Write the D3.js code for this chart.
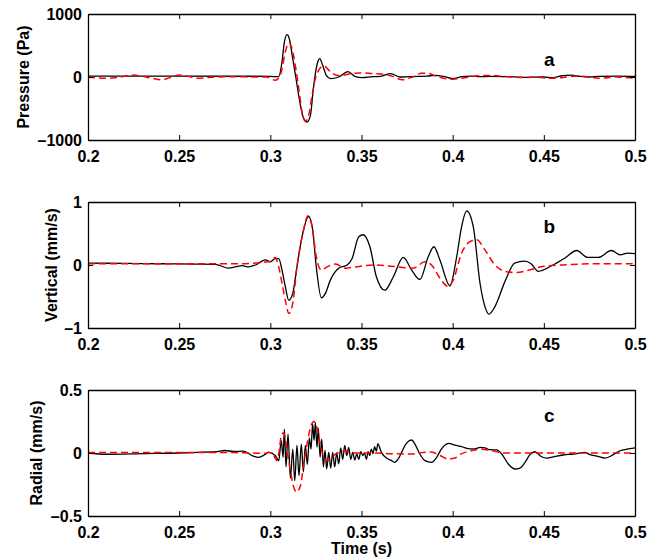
<!DOCTYPE html>
<html>
<head>
<meta charset="utf-8">
<script src="https://cdn.jsdelivr.net/npm/d3@7"></script>
<style>
  body { margin: 0; background: #fff; }
  text { font-family: "Liberation Sans", Arial, Helvetica, sans-serif; font-weight: bold; }
</style>
</head>
<body>
<div id="chart"></div>
<script>
// data: [time (s), value]
var timeTicks = [0.2, 0.25, 0.3, 0.35, 0.4, 0.45, 0.5];

// panel a - pressure (Pa)
var pressureBlack = [
  [0.2, 15], [0.25, 15], [0.29, 12], [0.3, 10], [0.3046, 5], [0.3064, 240], [0.3077, 555], [0.3092, 672],
  [0.3104, 608], [0.3123, 291], [0.3141, -26], [0.3165, -450], [0.3183, -661], [0.3201, -714],
  [0.322, -608], [0.3234, -238], [0.3247, 53], [0.326, 238], [0.3271, 291], [0.3287, 185],
  [0.3307, 26], [0.333, -26], [0.3375, 0], [0.3426, 85], [0.3467, 5], [0.3503, -10], [0.356, 5],
  [0.3605, 10], [0.366, 55], [0.371, 0], [0.376, 5], [0.381, 10], [0.386, 15], [0.39, 25],
  [0.395, 10], [0.4, -25], [0.405, 5], [0.41, 15], [0.415, 5], [0.42, 10], [0.43, 5], [0.44, -5],
  [0.45, 0], [0.455, -10], [0.46, 20], [0.465, 30], [0.47, 10], [0.475, 0], [0.48, 10], [0.49, 15], [0.5, 10]
];
var pressureRed = [
  [0.2, 0], [0.205, -15], [0.21, -20], [0.215, -10], [0.22, 10], [0.225, 30], [0.23, 10],
  [0.235, -20], [0.24, -45], [0.245, -10], [0.25, 30], [0.255, 10], [0.26, -20], [0.265, -10],
  [0.27, 0], [0.28, 5], [0.29, 0], [0.298, 0], [0.3027, -53], [0.3055, 30], [0.3064, 132],
  [0.3082, 397], [0.3104, 545], [0.3119, 450], [0.3137, 185], [0.3156, -185], [0.3174, -556],
  [0.3192, -704], [0.321, -608], [0.3229, -291], [0.3247, -26], [0.3265, 106], [0.3293, 180],
  [0.332, 110], [0.3345, 50], [0.338, 20], [0.342, 40], [0.346, 60], [0.35, 65], [0.356, 55],
  [0.362, 45], [0.367, 10], [0.3725, -45], [0.377, -10], [0.383, 60], [0.387, 55], [0.391, 10],
  [0.395, -20], [0.4, -35], [0.405, -20], [0.41, 5], [0.415, 20], [0.42, 25], [0.43, 5],
  [0.44, -10], [0.445, 0], [0.452, -20], [0.46, -10], [0.468, 15], [0.475, 0], [0.48, -20],
  [0.49, 0], [0.5, -20]
];

// panel b - vertical velocity (mm/s)
var verticalBlack = [
  [0.2, 0.03], [0.22, 0.025], [0.24, 0.02], [0.26, 0.015], [0.2698, 0.01], [0.2771, -0.05],
  [0.2808, -0.03], [0.2844, -0.01], [0.2881, -0.03], [0.2918, 0], [0.2973, 0.08], [0.3, 0.05],
  [0.3027, 0.1], [0.3046, 0.1], [0.3064, -0.08], [0.3082, -0.34], [0.3101, -0.56], [0.3123, -0.45],
  [0.3146, -0.03], [0.3174, 0.45], [0.321, 0.77], [0.3232, 0.56], [0.3252, -0.03], [0.328, -0.52],
  [0.3302, -0.45], [0.3329, -0.24], [0.3375, -0.05], [0.3421, 0], [0.3448, 0.1], [0.3485, 0.45],
  [0.3509, 0.48], [0.3546, 0.29], [0.3582, -0.19], [0.3628, -0.4], [0.3674, -0.19], [0.3729, 0.12],
  [0.3775, -0.08], [0.382, -0.23], [0.3866, 0.13], [0.3897, 0.29], [0.393, 0.08], [0.3985, -0.33],
  [0.4022, 0.13], [0.4049, 0.61], [0.4077, 0.86], [0.4113, 0.61], [0.415, -0.29], [0.4177, -0.66],
  [0.4199, -0.78], [0.4232, -0.66], [0.4287, -0.26], [0.434, 0.03], [0.4395, 0.06], [0.443, 0.02],
  [0.447, -0.1], [0.455, 0], [0.462, 0.12], [0.468, 0.23], [0.474, 0.12], [0.48, 0.12],
  [0.487, 0.23], [0.492, 0.16], [0.496, 0.19], [0.5, 0.18]
];
var verticalRed = [
  [0.2, 0.02], [0.24, 0.02], [0.28, 0.02], [0.2991, 0.05], [0.3027, 0.12], [0.3046, -0.03],
  [0.3064, -0.29], [0.3086, -0.61], [0.3101, -0.77], [0.3123, -0.61], [0.3146, -0.03], [0.3178, 0.5],
  [0.3207, 0.78], [0.3229, 0.61], [0.3252, 0.13], [0.328, -0.08], [0.3311, -0.03], [0.3357, 0.015],
  [0.3412, -0.05], [0.3467, -0.03], [0.3573, 0], [0.3701, -0.03], [0.3784, -0.05], [0.3848, 0.05],
  [0.3884, 0], [0.393, -0.21], [0.3976, -0.34], [0.4003, -0.24], [0.4049, 0.19], [0.4095, 0.37],
  [0.4132, 0.4], [0.4177, 0.24], [0.4232, 0], [0.4287, -0.1], [0.435, -0.12], [0.442, -0.08],
  [0.45, -0.02], [0.46, 0.0], [0.48, 0.02], [0.5, 0.02]
];

// panel c - radial velocity (mm/s)
var radialBlack = [
  [0.2, 0], [0.21, -0.01], [0.23, -0.005], [0.25, 0], [0.26, 0.005], [0.27, 0.01], [0.275, 0.02],
  [0.28, 0.012], [0.285, 0.015], [0.29, -0.02], [0.2936, -0.035], [0.2973, -0.01], [0.2991, 0.005],
  [0.3027, -0.02], [0.3046, -0.06], [0.306, 0.098], [0.307, -0.034], [0.3077, 0.19], [0.3086, -0.11],
  [0.3097, 0.15], [0.311, -0.2], [0.3123, 0.03], [0.3134, -0.22], [0.3146, 0.06], [0.3157, -0.18],
  [0.317, 0.07], [0.3181, -0.15], [0.3192, 0.06], [0.3203, -0.09], [0.3214, 0.12], [0.3223, 0.03],
  [0.3232, 0.23], [0.324, 0.1], [0.3247, 0.24], [0.3256, 0.045], [0.3263, 0.2], [0.3273, -0.034],
  [0.3282, 0.11], [0.3291, -0.11], [0.33, 0.02], [0.3309, -0.127], [0.332, 0.005], [0.3331, -0.12],
  [0.3342, 0.005], [0.3353, -0.11], [0.3364, 0], [0.3375, -0.087], [0.3386, 0.04], [0.3397, -0.05],
  [0.3408, 0.06], [0.3419, -0.02], [0.343, 0.045], [0.3441, -0.05], [0.3452, 0.005], [0.3463, -0.056],
  [0.3474, -0.008], [0.3485, -0.05], [0.3496, 0.01], [0.3507, -0.02], [0.3516, 0.0], [0.3527, -0.05],
  [0.3536, 0.01], [0.3545, -0.02], [0.3554, 0.03], [0.3563, -0.005], [0.3572, 0.05], [0.3581, 0.015],
  [0.359, 0.075], [0.3599, 0.045], [0.3609, 0.005], [0.3646, -0.048], [0.3664, -0.06], [0.368, -0.074],
  [0.3701, -0.048], [0.372, 0.005], [0.3738, 0.058], [0.3756, 0.092], [0.3775, 0.103], [0.3793, 0.071],
  [0.382, -0.008], [0.3848, -0.061], [0.3884, -0.074], [0.3912, -0.034], [0.3939, 0.032], [0.3958, 0.063],
  [0.3976, 0.077], [0.4012, 0.063], [0.4049, 0.05], [0.4095, 0.032], [0.4122, 0.032], [0.415, 0.045],
  [0.4177, 0.04], [0.4205, 0.026], [0.4241, 0.024], [0.4269, -0.008], [0.4305, -0.087], [0.4342, -0.127],
  [0.4369, -0.12], [0.4397, -0.074], [0.4424, -0.013], [0.4452, 0.01], [0.447, -0.008], [0.4488, -0.03],
  [0.4516, -0.04], [0.4552, -0.03], [0.4607, -0.016], [0.4662, -0.008], [0.4726, 0.005], [0.4753, -0.013],
  [0.479, -0.024], [0.4836, -0.04], [0.4881, -0.013], [0.4918, 0.018], [0.4955, 0.03], [0.5, 0.04]
];
var radialRed = [
  [0.2, 0.003], [0.25, 0.003], [0.28, 0.003], [0.2973, -0.003], [0.2991, 0.005], [0.3018, -0.02],
  [0.3037, -0.06], [0.3051, 0.045], [0.306, 0.14], [0.3073, 0.16], [0.3092, 0.02], [0.311, -0.14],
  [0.3128, -0.27], [0.3143, -0.31], [0.3165, -0.26], [0.3183, -0.09], [0.3201, 0.07], [0.322, 0.2],
  [0.3238, 0.25], [0.3256, 0.2], [0.3274, 0.07], [0.3293, -0.034], [0.3311, -0.06], [0.3329, -0.05],
  [0.3357, -0.008], [0.3384, 0.005], [0.3412, 0.02], [0.343, 0.005], [0.3467, 0], [0.3573, 0],
  [0.3646, -0.005], [0.3775, -0.008], [0.383, 0.003], [0.3884, 0.008], [0.393, -0.02], [0.3976, -0.048],
  [0.4012, -0.04], [0.4049, -0.005], [0.4086, 0.013], [0.4122, 0.024], [0.4159, 0.03], [0.4196, 0.024],
  [0.4232, 0.013], [0.4287, 0.0], [0.45, 0], [0.5, 0]
];

var panels = [
  { top: 14,  yLabel: "Pressure (Pa)",   yDomain: [-1000, 1000], yTicks: [-1000, 0, 1000], tag: "a", tagY: 175,
    black: pressureBlack, red: pressureRed, labelX: 23 },
  { top: 202, yLabel: "Vertical (mm/s)", yDomain: [-1, 1], yTicks: [-1, 0, 1], tag: "b", tagY: 0.51,
    black: verticalBlack, red: verticalRed, labelX: 51 },
  { top: 390, yLabel: "Radial (mm/s)",   yDomain: [-0.5, 0.5], yTicks: [-0.5, 0, 0.5], tag: "c", tagY: 0.246,
    black: radialBlack, red: radialRed, labelX: 36 }
];

var svgWidth = 660, svgHeight = 560;
var left = 88, width = 547, height = 126;

var svg = d3.select("#chart").append("svg")
  .attr("width", svgWidth)
  .attr("height", svgHeight)
  .style("background", "#fff");

var x = d3.scaleLinear().domain([0.2, 0.5]).range([0, width]);

function fmt(v) {
  var s = String(Math.abs(v));
  return v < 0 ? "\u2013" + s : s;
}

panels.forEach(function(p, i) {
  var y = d3.scaleLinear().domain(p.yDomain).range([height, 0]);
  var g = svg.append("g").attr("transform", `translate(${left}, ${p.top})`);

  g.append("clipPath").attr("id", "clip" + i)
    .append("rect").attr("width", width).attr("height", height);

  var line = d3.line()
    .x(d => x(d[0]))
    .y(d => y(d[1]))
    .curve(d3.curveMonotoneX);

  var plot = g.append("g").attr("clip-path", `url(#clip${i})`);

  plot.append("path")
    .datum(p.black)
    .attr("fill", "none")
    .attr("stroke", "#000")
    .attr("stroke-width", 1.3)
    .attr("d", line);

  plot.append("path")
    .datum(p.red)
    .attr("fill", "none")
    .attr("stroke", "#ff0000")
    .attr("stroke-width", 1.5)
    .attr("stroke-dasharray", "7,4")
    .attr("d", line);

  // axes, MATLAB style: ticks pointing in, box around
  var bottomAxis = d3.axisBottom(x).tickValues(timeTicks).tickSizeInner(-5).tickSizeOuter(0)
    .tickPadding(8).tickFormat(d => String(d));
  var topAxis = d3.axisTop(x).tickValues(timeTicks).tickSizeInner(-5).tickSizeOuter(0).tickFormat("");
  var leftAxis = d3.axisLeft(y).tickValues(p.yTicks).tickSizeInner(-5).tickSizeOuter(0)
    .tickPadding(6).tickFormat(fmt);
  var rightAxis = d3.axisRight(y).tickValues(p.yTicks).tickSizeInner(-5).tickSizeOuter(0).tickFormat("");

  var gb = g.append("g").attr("transform", `translate(0, ${height})`).call(bottomAxis);
  var gt = g.append("g").call(topAxis);
  var gl = g.append("g").call(leftAxis);
  var gr = g.append("g").attr("transform", `translate(${width}, 0)`).call(rightAxis);

  [gb, gt, gl, gr].forEach(function(a) {
    a.select(".domain").attr("stroke", "#000").attr("stroke-width", 1.3);
    a.selectAll(".tick line").attr("stroke", "#000").attr("stroke-width", 1);
    a.selectAll("text").attr("fill", "#000").style("font-size", "16px")
      .style("font-family", '"Liberation Sans", Arial, sans-serif').style("font-weight", "bold");
  });
  gb.selectAll("text").attr("dy", "0.9em");

  g.append("text")
    .attr("x", x(0.453))
    .attr("y", y(p.tagY))
    .attr("text-anchor", "middle")
    .style("font-size", "19px")
    .text(p.tag);

  svg.append("text")
    .attr("transform", `translate(${p.labelX}, ${p.top + height / 2}) rotate(-90)`)
    .attr("text-anchor", "middle")
    .attr("dy", "0.35em")
    .style("font-size", "16px")
    .text(p.yLabel);
});

svg.append("text")
  .attr("x", left + width / 2)
  .attr("y", 554)
  .attr("text-anchor", "middle")
  .style("font-size", "16px")
  .text("Time (s)");
</script>
</body>
</html>
